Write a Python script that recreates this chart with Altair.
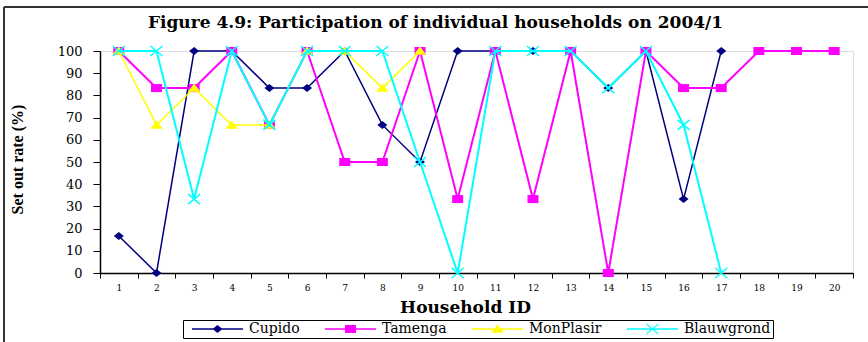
import altair as alt
import pandas as pd

# Household IDs on the x axis and the four collection areas
household_ids = list(range(1, 21))
series_names = ["Cupido", "Tamenga", "MonPlasir", "Blauwgrond"]
series_colors = ["#000080", "#FF00FF", "#FFFF00", "#00FFFF"]

# Set out rate (%) per household; None where a household has no record
cupido = [16.7, 0, 100, 100, 83.3, 83.3, 100, 66.7, 50, 100,
          100, 100, 100, 83.3, 100, 33.3, 100, None, None, None]
tamenga = [100, 83.3, 83.3, 100, 66.7, 100, 50, 50, 100, 33.3,
           100, 33.3, 100, 0, 100, 83.3, 83.3, 100, 100, 100]
monplasir = [100, 66.7, 83.3, 66.7, 66.7, 100, 100, 83.3, 100, None,
             None, None, None, None, None, None, None, None, None, None]
blauwgrond = [100, 100, 33.3, 100, 66.7, 100, 100, 100, 50, 0,
              100, 100, 100, 83.3, 100, 66.7, 0, None, None, None]

y_ticks = list(range(0, 101, 10))
x_tick_positions = [i + 0.5 for i in range(0, 21)]

rows = []
for name, values in zip(series_names, [cupido, tamenga, monplasir, blauwgrond]):
    for hid, v in zip(household_ids, values):
        if v is not None:
            rows.append({"household": hid, "rate": v, "series": name})
df = pd.DataFrame(rows)

# Marker outlines (unit = half the symbol width)
marker_paths = {
    "Cupido": "M0,-0.8L1,0L0,0.8L-1,0Z",
    "Tamenga": "M-1.1,-0.8H1.1V0.8H-1.1Z",
    "MonPlasir": "M0,-0.9L1.25,0.75L-1.25,0.75Z",
    "Blauwgrond": "M-1.2,-1L1.2,1M-1.2,1L1.2,-1",
}
marker_filled = {"Cupido": True, "Tamenga": True, "MonPlasir": True, "Blauwgrond": False}
line_widths = {"Cupido": 1.5, "Tamenga": 2, "MonPlasir": 1.5, "Blauwgrond": 2}

# Legend keys: a short line with the marker in its middle, all as filled shapes
bar = "M0,-0.15H10.2V0.15H0Z"
legend_paths = [
    bar + "M5.1,-0.8L6.1,0L5.1,0.8L4.1,0Z",
    bar + "M4,-0.8H6.2V0.8H4Z",
    bar + "M5.1,-0.9L6.35,0.75L3.85,0.75Z",
    bar + "M3.9,-1.15L6.3,0.85L6.3,1.15L3.9,-0.85Z"
          "M3.9,0.85L6.3,-1.15L6.3,-0.85L3.9,1.15Z",
]

color_scale = alt.Scale(domain=series_names, range=series_colors)

x_enc = alt.X(
    "household:Q",
    scale=alt.Scale(domain=[0.5, 20.5], nice=False, zero=False),
    axis=alt.Axis(
        values=x_tick_positions,
        labelExpr="datum.value < 20 ? format(datum.value + 0.5, 'd') : ''",
        labelOffset=18.8,
        labelFlush=False,
        labelOverlap=False,
        labelBound=False,
        labelFont="DejaVu Serif",
        labelFontSize=9,
        labelColor="black",
        labelPadding=5,
        tickSize=5,
        tickColor="black",
        domainColor="black",
        domainWidth=1.5,
        grid=False,
        title="Household ID",
        titleFont="DejaVu Serif",
        titleFontSize=17,
        titleFontWeight="bold",
        titleColor="black",
        titleBaseline="middle",
        titleAlign="center",
        titleX=365,
        titleY=34,
    ),
)
y_enc = alt.Y(
    "rate:Q",
    scale=alt.Scale(domain=[0, 100], nice=False),
    axis=alt.Axis(
        values=y_ticks,
        labelFont="DejaVu Serif",
        labelFontSize=13,
        labelColor="black",
        labelPadding=11,
        tickSize=7,
        tickColor="black",
        domainColor="black",
        domainWidth=1.5,
        grid=False,
        title="Set out rate (%)",
        titleFont="Liberation Serif",
        titleFontSize=16,
        titleFontWeight="bold",
        titleColor="black",
        titleBaseline="middle",
        titleAlign="center",
        titleX=-83,
        titleY=108,
    ),
)

base = alt.Chart(df)

# Layer that draws nothing itself (its rows are filtered away) and only carries
# the legend, whose entries come from the explicit scale domains
legend_layer = base.transform_filter("datum.rate < 0").mark_point(
    filled=True, size=100, opacity=1
).encode(
    x=x_enc,
    y=y_enc,
    color=alt.Color(
        "series:N",
        scale=color_scale,
        legend=alt.Legend(
            title=None,
            orient="none",
            legendX=83,
            legendY=269,
            direction="horizontal",
            strokeColor="black",
            fillColor="white",
            padding=2,
            symbolSize=100,
            symbolStrokeWidth=0,
            symbolOpacity=1,
            labelFont="DejaVu Serif",
            labelFontSize=14,
            labelColor="black",
            labelOffset=50,
            columnPadding=18,
        ),
    ),
    shape=alt.Shape("series:N", scale=alt.Scale(domain=series_names, range=legend_paths)),
)

layers = [legend_layer]
for name in series_names:
    sub = base.transform_filter(alt.datum.series == name)
    layers.append(
        sub.mark_line(strokeWidth=line_widths[name]).encode(
            x=x_enc, y=y_enc,
            color=alt.Color("series:N", scale=color_scale, legend=None),
        )
    )
    layers.append(
        sub.mark_point(
            shape=marker_paths[name], size=100, filled=marker_filled[name],
            strokeWidth=1.5, opacity=1,
        ).encode(
            x=x_enc, y=y_enc,
            color=alt.Color("series:N", scale=color_scale, legend=None),
        )
    )

# Outer frame around the figure
frame_df = pd.DataFrame({"edge": ["frame"]})
frame_top = alt.Chart(frame_df).mark_rule(color="#333333", strokeWidth=2).encode(
    x=alt.value(-96), x2=alt.value(768), y=alt.value(-44)
)
frame_left = alt.Chart(frame_df).mark_rule(color="#333333", strokeWidth=2).encode(
    x=alt.value(-96), y=alt.value(-44), y2=alt.value(291)
)
layers += [frame_top, frame_left]

chart = alt.layer(*layers).properties(
    width=753,
    height=222,
    padding={"left": 100, "top": 51, "right": 15, "bottom": 69},
    autosize=alt.AutoSizeParams(type="none"),
    title=alt.TitleParams(
        "Figure 4.9: Participation of individual households on 2004/1",
        anchor="middle",
        font="DejaVu Serif",
        fontSize=17,
        fontWeight="bold",
        color="black",
        offset=-26,
        dx=-41,
    ),
).configure_view(
    stroke="#999999", strokeWidth=2
).configure(background="white")

chart.save("out.html", embed_options={"renderer": "svg", "actions": False})
